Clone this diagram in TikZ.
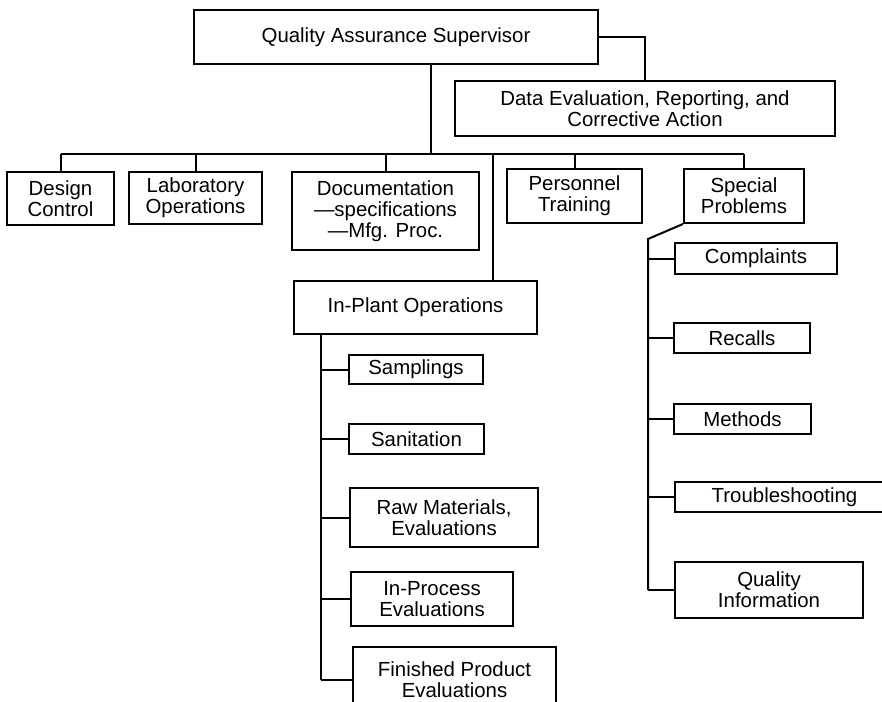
\documentclass[tikz,border=0pt]{standalone}
\usepackage{fontspec}
\setmainfont{Liberation Sans}
\newcommand\chartfont{\fontsize{20.4}{21}\selectfont}
\begin{document}
\begin{tikzpicture}[x=1pt,y=-1pt,
  box/.style={draw, line width=2pt, inner sep=0pt, align=center, font=\chartfont,
    minimum width=#1},
  conn/.style={line width=2pt}]
\useasboundingbox[fill=white] (0,0) rectangle (882,701);
% top level
\node[box=404, minimum height=54] (qas) at (396,37) {Quality Assurance Supervisor};
\node[box=380, minimum height=55] (data) at (645,108.5) {Data Evaluation, Reporting, and\\Corrective Action};
% second level
\node[box=107, minimum height=53] (dc) at (60.5,198.5) {Design\\Control};
\node[box=133, minimum height=52] (lab) at (195.5,198) {Laboratory\\Operations};
\node[box=187, minimum height=78] (doc) at (385.5,211) {Documentation\\—specifications\\—Mfg. Proc.};
\node[box=135, minimum height=54] (pers) at (574.5,196) {Personnel\\Training};
\node[box=120, minimum height=54] (spec) at (744,196) {Special\\Problems};
% in-plant
\node[box=243, minimum height=53] (inplant) at (415.5,307.5) {In-Plant Operations};
\node[box=134, minimum height=29] (samp) at (416,369.5) {Samplings};
\node[box=135, minimum height=30] (sani) at (416.5,439) {Sanitation};
\node[box=188, minimum height=59] (raw) at (444,517.5) {Raw Materials,\\Evaluations};
\node[box=162, minimum height=54] (inproc) at (432,599) {In-Process\\Evaluations};
\node[box=203, minimum height=66] (fin) at (454.5,680) {Finished Product\\Evaluations};
% special problems
\node[box=162, minimum height=31] (comp) at (756,258.5) {Complaints};
\node[box=136, minimum height=30] (rec) at (742,338) {Recalls};
\node[box=137, minimum height=30] (meth) at (742.5,419) {Methods};
\node[box=219, minimum height=30] (trouble) at (784.5,497) {Troubleshooting};
\node[box=188, minimum height=56] (qi) at (769,590) {Quality\\Information};
% coordinates
\coordinate (qd) at (431,154);
\coordinate (ipt) at (493,154);
\coordinate (ips) at (321,334);
\coordinate (sps) at (648,239);
% connectors
\draw[conn] (qas.east) -| (data.north);
\draw[conn] (qd |- qas.south) -- (qd);
\draw[conn] (dc.north |- qd) -- (spec.north |- qd);
\draw[conn] (dc.north) -- (dc.north |- qd);
\draw[conn] (lab.north) -- (lab.north |- qd);
\draw[conn] (doc.north) -- (doc.north |- qd);
\draw[conn] (pers.north) -- (pers.north |- qd);
\draw[conn] (spec.north) -- (spec.north |- qd);
\draw[conn] (ipt) -- (ipt |- inplant.north);
\draw[conn] (ips |- inplant.south) -- (ips |- fin.west);
\draw[conn] (samp.west) -- (samp.west -| ips);
\draw[conn] (sani.west) -- (sani.west -| ips);
\draw[conn] (raw.west) -- (raw.west -| ips);
\draw[conn] (inproc.west) -- (inproc.west -| ips);
\draw[conn] (fin.west) -- (fin.west -| ips);
\draw[conn] (spec.south west) -- (sps) -- (sps |- qi.west);
\draw[conn] (comp.west) -- (comp.west -| sps);
\draw[conn] (rec.west) -- (rec.west -| sps);
\draw[conn] (meth.west) -- (meth.west -| sps);
\draw[conn] (trouble.west) -- (trouble.west -| sps);
\draw[conn] (qi.west) -- (qi.west -| sps);
\end{tikzpicture}
\end{document}
